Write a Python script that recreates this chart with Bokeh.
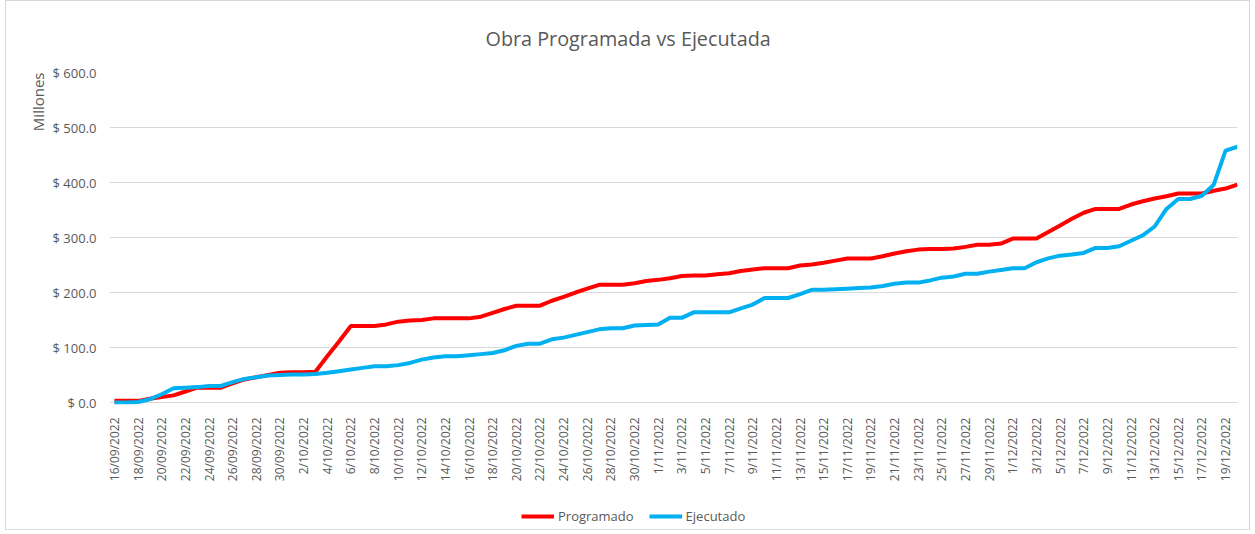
import math
from bokeh.plotting import figure
from bokeh.layouts import column
from bokeh.models import FixedTicker, Legend, LegendItem, Title, Range1d
from bokeh.embed import file_html
from bokeh.resources import INLINE

# ---------------- data ----------------
fechas = [
    "16/09/2022", "17/09/2022", "18/09/2022", "19/09/2022", "20/09/2022",
    "21/09/2022", "22/09/2022", "23/09/2022", "24/09/2022", "25/09/2022",
    "26/09/2022", "27/09/2022", "28/09/2022", "29/09/2022", "30/09/2022",
    "1/10/2022", "2/10/2022", "3/10/2022", "4/10/2022", "5/10/2022",
    "6/10/2022", "7/10/2022", "8/10/2022", "9/10/2022", "10/10/2022",
    "11/10/2022", "12/10/2022", "13/10/2022", "14/10/2022", "15/10/2022",
    "16/10/2022", "17/10/2022", "18/10/2022", "19/10/2022", "20/10/2022",
    "21/10/2022", "22/10/2022", "23/10/2022", "24/10/2022", "25/10/2022",
    "26/10/2022", "27/10/2022", "28/10/2022", "29/10/2022", "30/10/2022",
    "31/10/2022", "1/11/2022", "2/11/2022", "3/11/2022", "4/11/2022",
    "5/11/2022", "6/11/2022", "7/11/2022", "8/11/2022", "9/11/2022",
    "10/11/2022", "11/11/2022", "12/11/2022", "13/11/2022", "14/11/2022",
    "15/11/2022", "16/11/2022", "17/11/2022", "18/11/2022", "19/11/2022",
    "20/11/2022", "21/11/2022", "22/11/2022", "23/11/2022", "24/11/2022",
    "25/11/2022", "26/11/2022", "27/11/2022", "28/11/2022", "29/11/2022",
    "30/11/2022", "1/12/2022", "2/12/2022", "3/12/2022", "4/12/2022",
    "5/12/2022", "6/12/2022", "7/12/2022", "8/12/2022", "9/12/2022",
    "10/12/2022", "11/12/2022", "12/12/2022", "13/12/2022", "14/12/2022",
    "15/12/2022", "16/12/2022", "17/12/2022", "18/12/2022", "19/12/2022",
    "20/12/2022",
]

programado = [
    3, 3, 3, 7, 10, 13, 20, 27, 27, 27,
    35, 42, 46, 50, 54, 55, 55, 56, 84, 111,
    139, 139, 139, 142, 147, 149, 150, 153, 153, 153,
    153, 156, 163, 170, 176, 176, 176, 185, 192, 200,
    207, 214, 214, 214, 217, 221, 223, 226, 230, 231,
    231, 233, 235, 239, 242, 244, 244, 244, 249, 251,
    254, 258, 262, 262, 262, 266, 271, 275, 278, 279,
    279, 280, 283, 287, 287, 289, 298, 298, 298, 310,
    322, 334, 345, 352, 352, 352, 360, 366, 371, 375,
    380, 380, 380, 385, 389, 396,
]

ejecutado = [
    0, 0, 1, 6, 15, 26, 27, 28, 30, 30,
    37, 43, 46, 49, 50, 51, 51, 52, 54, 57,
    60, 63, 66, 66, 68, 72, 78, 82, 84, 84,
    86, 88, 90, 95, 103, 107, 107, 115, 118, 123,
    128, 133, 135, 135, 140, 141, 142, 154, 154, 164,
    164, 164, 164, 171, 178, 190, 190, 190, 197, 205,
    205, 206, 207, 208, 209, 212, 216, 218, 218, 222,
    227, 229, 234, 234, 238, 241, 244, 244, 255, 262,
    267, 269, 272, 281, 281, 284, 294, 304, 320, 352,
    370, 370, 376, 396, 458, 465,
]

y_ticks = [0, 100, 200, 300, 400, 500, 600]
y_labels = ["$ 0.0", "$ 100.0", "$ 200.0", "$ 300.0", "$ 400.0", "$ 500.0", "$ 600.0"]

# ---------------- main figure ----------------
FONT = "Open Sans"
GREY = "#595959"
RED = "#FF0000"
BLUE = "#00B0F0"
W = 1243

x = list(range(len(fechas)))

p = figure(
    width=W, height=488,
    output_backend="svg", toolbar_location=None,
    x_range=Range1d(-0.42, len(fechas) - 0.99),
    y_range=Range1d(-3.6, 600),
    min_border_left=103, min_border_right=12,
    min_border_top=69, min_border_bottom=85,
)
p.outline_line_color = None
p.background_fill_color = "white"
p.border_fill_color = "white"

p.title.text = "Obra Programada vs Ejecutada"
p.title.align = "left"
p.title.offset = 376
p.title.text_font = FONT
p.title.text_font_size = "19.8px"
p.title.text_font_style = "normal"
p.title.text_color = GREY
p.title.standoff = 42

r1 = p.line(x, programado, line_color=RED, line_width=4)
r2 = p.line(x, ejecutado, line_color=BLUE, line_width=4)

# x axis
xa = p.xaxis[0]
xa.ticker = FixedTicker(ticks=x[::2])
xa.major_label_overrides = {i: fechas[i] for i in x[::2]}
xa.major_label_orientation = math.pi / 2
xa.axis_line_color = None
xa.major_tick_line_color = None
xa.minor_tick_line_color = None
xa.major_label_standoff = 7
xa.major_label_text_font = FONT
xa.major_label_text_font_size = "12px"
xa.major_label_text_color = GREY

# y axis
ya = p.yaxis[0]
ya.ticker = FixedTicker(ticks=y_ticks)
ya.major_label_overrides = {t: l for t, l in zip(y_ticks, y_labels)}
ya.axis_line_color = None
ya.major_tick_line_color = None
ya.minor_tick_line_color = None
ya.major_label_standoff = 7
ya.major_label_text_font = FONT
ya.major_label_text_font_size = "13px"
ya.major_label_text_color = GREY

p.add_layout(Title(text="Millones", align="right", text_font=FONT,
                   text_font_size="15px", text_font_style="normal",
                   text_color=GREY, standoff=3), "left")

p.xgrid.visible = False
p.ygrid.ticker = FixedTicker(ticks=y_ticks)
p.ygrid.grid_line_color = "#D9D9D9"
p.ygrid.grid_line_width = 1

# ---------------- legend strip ----------------
pl = figure(
    width=W, height=40,
    output_backend="svg", toolbar_location=None,
    x_range=Range1d(0, 1), y_range=Range1d(-1000, -999),
    x_axis_location=None, y_axis_location=None,
    min_border_left=0, min_border_right=0, min_border_top=0, min_border_bottom=0,
)
pl.outline_line_color = None
pl.xgrid.visible = False
pl.ygrid.visible = False
l1 = pl.line(x, programado, line_color=RED, line_width=4)
l2 = pl.line(x, ejecutado, line_color=BLUE, line_width=4)

legend = Legend(
    items=[LegendItem(label="Programado", renderers=[l1]),
           LegendItem(label="Ejecutado", renderers=[l2])],
    orientation="horizontal", location=(412, 4),
    glyph_width=33, glyph_height=14, label_standoff=4, spacing=15,
    label_text_font=FONT, label_text_font_size="13px", label_text_color=GREY,
    border_line_color=None, background_fill_alpha=0,
    padding=0, margin=0,
)
pl.add_layout(legend)

layout = column(p, pl, spacing=0)
layout.styles = {"border": "1px solid #D9D9D9", "margin-left": "5px"}

open("out.html", "w").write(file_html(layout, INLINE))
